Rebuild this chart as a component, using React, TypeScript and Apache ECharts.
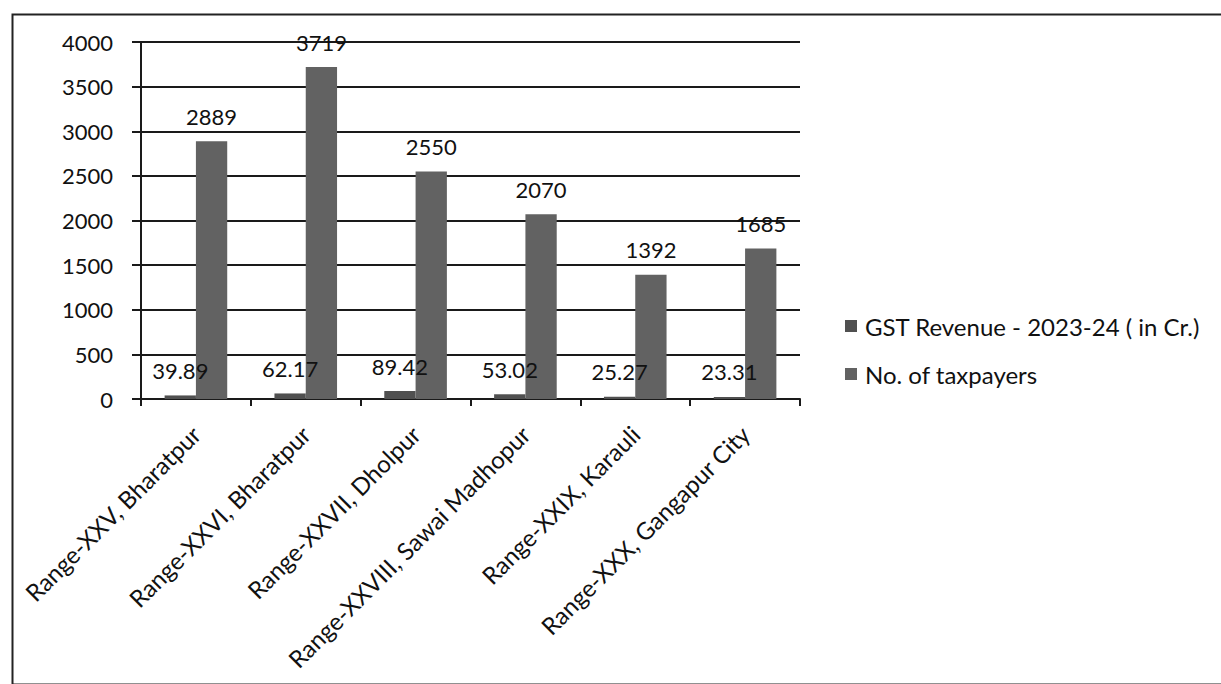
import React, { useEffect, useRef } from "react";
import * as echarts from "echarts";

const categories = [
  "Range-XXV, Bharatpur",
  "Range-XXVI, Bharatpur",
  "Range-XXVII, Dholpur",
  "Range-XXVIII, Sawai Madhopur",
  "Range-XXIX, Karauli",
  "Range-XXX, Gangapur City",
];
const gstRevenue = [39.89, 62.17, 89.42, 53.02, 25.27, 23.31];
const taxpayers = [2889, 3719, 2550, 2070, 1392, 1685];
const seriesNames = ["GST Revenue - 2023-24 ( in Cr.)", "No. of taxpayers"];

const FONT = "Lato, 'Open Sans', sans-serif";

export default function App() {
  const ref = useRef<HTMLDivElement>(null);
  useEffect(() => {
    document.body.style.margin = "0";
    const chart = echarts.init(ref.current!, null, { renderer: "svg" });
    const labelStyle = {
      show: true,
      position: "top" as const,
      distance: 14,
      color: "#111",
      fontSize: 22,
      fontFamily: FONT,
    };
    chart.setOption({
      animation: false,
      backgroundColor: "#ffffff",
      textStyle: { fontFamily: FONT },
      grid: { left: 141, right: 421, top: 42, bottom: 285, containLabel: false },
      legend: {
        orient: "vertical",
        left: 840,
        top: 309,
        itemWidth: 12,
        itemHeight: 12,
        itemGap: 24,
        icon: "rect",
        textStyle: { fontSize: 24, color: "#111", fontFamily: FONT, padding: [0, 0, 0, 3] },
        data: seriesNames,
      },
      xAxis: {
        type: "category",
        data: categories,
        axisLine: { show: true, lineStyle: { color: "#1a1a1a", width: 2 } },
        axisTick: { show: true, length: 7, lineStyle: { color: "#1a1a1a", width: 2 } },
        axisLabel: {
          rotate: 45,
          interval: 0,
          fontSize: 24,
          color: "#111",
          fontFamily: FONT,
          margin: 31,
        },
      },
      yAxis: {
        type: "value",
        min: 0,
        max: 4000,
        interval: 500,
        axisLine: { show: true, lineStyle: { color: "#1a1a1a", width: 2 } },
        axisTick: { show: true, length: 9, lineStyle: { color: "#1a1a1a", width: 2 } },
        axisLabel: {
          fontSize: 22,
          color: "#111",
          fontFamily: FONT,
          margin: 28,
          formatter: (v: number) => String(v),
        },
        splitLine: { show: true, lineStyle: { color: "#1a1a1a", width: 2 } },
      },
      series: [
        {
          name: seriesNames[0],
          type: "bar",
          data: gstRevenue,
          barGap: "0%",
          barCategoryGap: "43%",
          itemStyle: { color: "#505050" },
          label: labelStyle,
        },
        {
          name: seriesNames[1],
          type: "bar",
          data: taxpayers,
          barGap: "0%",
          barCategoryGap: "43%",
          itemStyle: { color: "#626262" },
          label: labelStyle,
        },
      ],
      graphic: [
        {
          type: "rect",
          left: 10,
          top: 12,
          shape: { width: 1240, height: 670 },
          style: { fill: "none", stroke: "#222", lineWidth: 2 },
          silent: true,
        },
      ],
    });
    return () => chart.dispose();
  }, []);
  return <div ref={ref} style={{ width: 1221, height: 684 }} />;
}
